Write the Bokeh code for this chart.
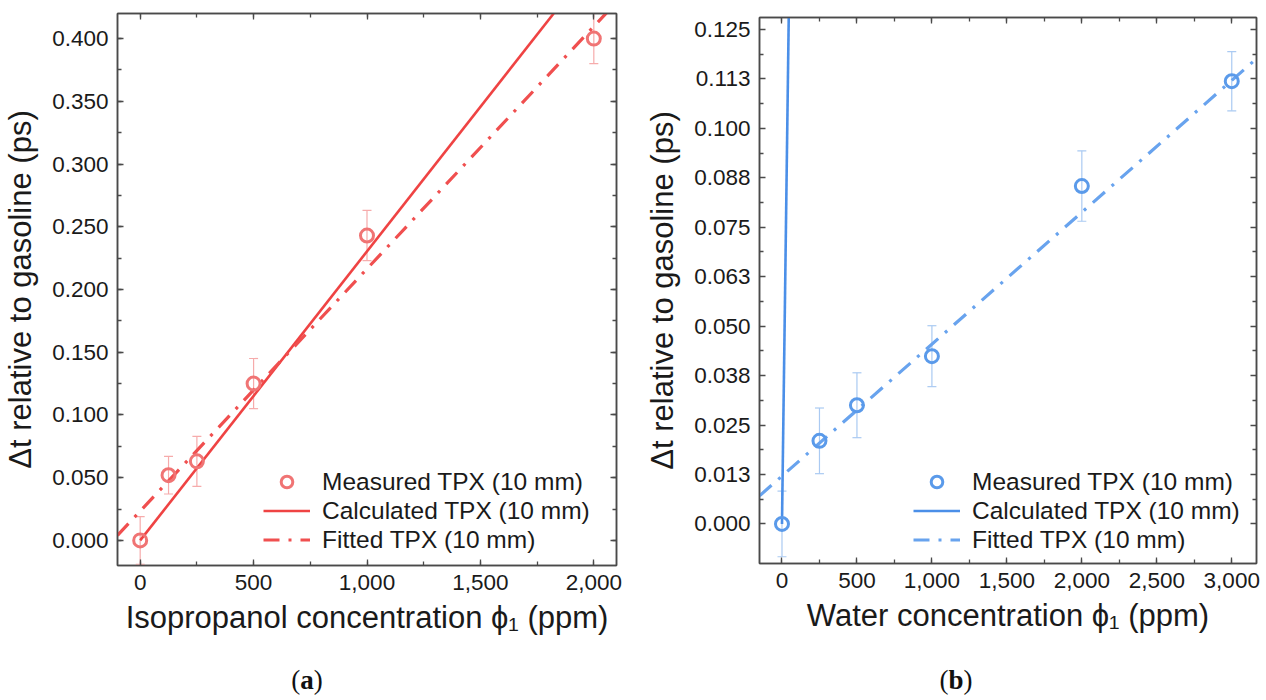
from bokeh.plotting import figure
from bokeh.models import (ColumnDataSource, Whisker, TeeHead, LinearAxis, SingleIntervalTicker,
                          FixedTicker, NumeralTickFormatter, Legend, LegendItem, Range1d, Div)
from bokeh.layouts import row, column
from bokeh.embed import file_html
from bokeh.resources import INLINE

# ---------------- Panel (a): isopropanol ----------------
ipa_conc = [0, 125, 250, 500, 1000, 2000]
ipa_dt = [0.000, 0.052, 0.063, 0.125, 0.243, 0.400]
ipa_err = [0.019, 0.015, 0.020, 0.020, 0.020, 0.020]
ipa_calc_x = [0, 1823]
ipa_calc_y = [0.000, 0.420]
ipa_fit_x = [-100, 2100]
ipa_fit_y = [0.004, 0.429]
ipa_xlabel = "Isopropanol concentration \u03d5\u2081 (ppm)"

# ---------------- Panel (b): water ----------------
water_conc = [0, 250, 500, 1000, 2000, 3000]
water_dt = [0.000, 0.021, 0.030, 0.0424, 0.0854, 0.1119]
water_err = [0.0083, 0.0083, 0.0082, 0.0077, 0.0089, 0.0075]
water_calc_x = [0, 45]
water_calc_y = [0.000, 0.128]
water_fit_x = [-150, 3165]
water_fit_y = [0.0071, 0.1176]
water_xlabel = "Water concentration \u03d5\u2081 (ppm)"
water_yticks = [0.0, 0.0125, 0.025, 0.0375, 0.05, 0.0625, 0.075, 0.0875, 0.1, 0.1125, 0.125]
water_ytick_labels = ["0.000", "0.013", "0.025", "0.038", "0.050", "0.063",
                      "0.075", "0.088", "0.100", "0.113", "0.125"]

ylabel = "\u0394t relative to gasoline (ps)"
legend_labels = ["Measured TPX (10 mm)", "Calculated TPX (10 mm)", "Fitted TPX (10 mm)"]

FONT = "Liberation Sans"
AXIS_COLOR = "#4a4a4a"
TEXT_COLOR = "#1a1a1a"


def style_axis(ax, show_labels=True):
    ax.axis_line_color = AXIS_COLOR
    ax.axis_line_width = 1.5
    ax.major_tick_line_color = AXIS_COLOR
    ax.minor_tick_line_color = AXIS_COLOR
    ax.major_tick_line_width = 1.3
    ax.minor_tick_line_width = 1.3
    ax.major_tick_in = 6
    ax.major_tick_out = 0
    ax.minor_tick_in = 4
    ax.minor_tick_out = 0
    if show_labels:
        ax.major_label_text_font = FONT
        ax.major_label_text_font_size = "22.5px"
        ax.major_label_text_color = TEXT_COLOR
        ax.major_label_standoff = 9
        ax.axis_label_text_font = FONT
        ax.axis_label_text_font_size = "31px"
        ax.axis_label_text_font_style = "normal"
        ax.axis_label_text_color = TEXT_COLOR
    else:
        ax.major_label_text_font_size = "0px"
        ax.major_label_text_alpha = 0
        ax.major_label_text_color = None
        ax.major_label_standoff = 0
        ax.axis_label = None


def make_panel(xs, ys, errs, calc_x, calc_y, fit_x, fit_y, x_range, y_range,
               xlabel, yticker, yformatter, yoverrides,
               main_col, marker_col, fit_col, err_col,
               frame_w, frame_h, borders, legend_loc):
    left, top, right, bottom = borders
    p = figure(frame_width=frame_w, frame_height=frame_h,
               x_range=Range1d(*x_range), y_range=Range1d(*y_range),
               output_backend="svg", toolbar_location=None,
               min_border_left=left, min_border_top=top,
               min_border_right=right, min_border_bottom=bottom,
               background_fill_color="white", border_fill_color="white")
    p.grid.visible = False
    p.outline_line_color = AXIS_COLOR
    p.outline_line_width = 1.5

    xticker = SingleIntervalTicker(interval=500, num_minor_ticks=2)
    p.xaxis.ticker = xticker
    p.xaxis.formatter = NumeralTickFormatter(format="0,0")
    p.xaxis.axis_label = xlabel
    p.xaxis.axis_label_standoff = 7
    p.yaxis.ticker = yticker
    if yformatter is not None:
        p.yaxis.formatter = yformatter
    if yoverrides is not None:
        p.yaxis.major_label_overrides = yoverrides
    p.yaxis.axis_label = ylabel
    p.yaxis.axis_label_standoff = 11
    style_axis(p.xaxis[0])
    style_axis(p.yaxis[0])

    ax_top = LinearAxis(ticker=xticker)
    ax_right = LinearAxis(ticker=yticker)
    style_axis(ax_top, show_labels=False)
    style_axis(ax_right, show_labels=False)
    p.add_layout(ax_top, "above")
    p.add_layout(ax_right, "right")

    src = ColumnDataSource(dict(x=xs, y=ys,
                                upper=[y + e for y, e in zip(ys, errs)],
                                lower=[y - e for y, e in zip(ys, errs)]))
    w = Whisker(source=src, base="x", upper="upper", lower="lower",
                line_color=err_col, line_width=1.2,
                upper_head=TeeHead(size=9, line_color=err_col, line_width=1.2),
                lower_head=TeeHead(size=9, line_color=err_col, line_width=1.2))
    p.add_layout(w)

    r_calc = p.line(calc_x, calc_y, line_color=main_col, line_width=2.6)
    r_fit = p.line(fit_x, fit_y, line_color=fit_col, line_width=3.2, line_dash="16 9 3 9")
    r_pts = p.scatter("x", "y", source=src, marker="circle", size=13,
                      fill_alpha=0, line_color=marker_col, line_width=3)

    legend = Legend(items=[LegendItem(label=legend_labels[0], renderers=[r_pts]),
                           LegendItem(label=legend_labels[1], renderers=[r_calc]),
                           LegendItem(label=legend_labels[2], renderers=[r_fit])],
                    location=legend_loc,
                    label_text_font=FONT, label_text_font_size="24.5px",
                    label_text_color=TEXT_COLOR,
                    glyph_width=47, glyph_height=29, label_height=29,
                    label_standoff=12, spacing=0, padding=0, margin=0,
                    border_line_alpha=0, background_fill_alpha=0)
    p.add_layout(legend)
    return p


ipa_yticker = SingleIntervalTicker(interval=0.05, num_minor_ticks=2)
pa = make_panel(ipa_conc, ipa_dt, ipa_err, ipa_calc_x, ipa_calc_y, ipa_fit_x, ipa_fit_y,
                (-100, 2100), (-0.02, 0.42), ipa_xlabel,
                ipa_yticker, NumeralTickFormatter(format="0.000"), None,
                "#ef4343", "#f07474", "#f04f4f", "#f6abab",
                499, 552, (111, 13, 22, 80), (146, 11))

minor_b = [(a + b) / 2 for a, b in zip(water_yticks[:-1], water_yticks[1:])]
water_yticker = FixedTicker(ticks=water_yticks, minor_ticks=minor_b)
overrides_b = {t: lab for t, lab in zip(water_yticks, water_ytick_labels)}
pb = make_panel(water_conc, water_dt, water_err, water_calc_x, water_calc_y,
                water_fit_x, water_fit_y,
                (-150, 3165), (-0.01, 0.128), water_xlabel,
                water_yticker, None, overrides_b,
                "#4b8fe8", "#5a9aea", "#68a3ee", "#aacaf2",
                497, 546, (117, 17, 4, 82), (154, 9))

cap_style = ("text-align:center;font-family:'Liberation Serif';font-size:27px;"
             "color:#111;line-height:36px;padding-top:12px;")
cap_a = Div(text='<div style="%swidth:604px">(<b>a</b>)</div>' % cap_style,
            width=632, height=50)
cap_b = Div(text='<div style="%swidth:618px">(<b>b</b>)</div>' % cap_style,
            width=618, height=50)

layout = row(column(pa, cap_a, spacing=0), column(pb, cap_b, spacing=0), spacing=0)

open("out.html", "w").write(file_html(layout, INLINE))
